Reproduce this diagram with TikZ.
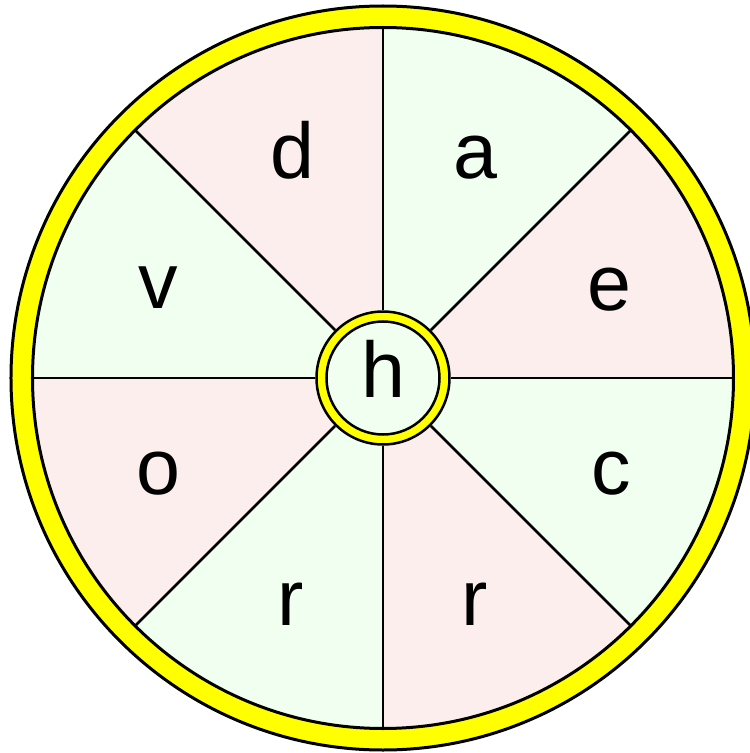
\documentclass[tikz,border=0pt]{standalone}
\usepackage{fontspec}
\setmainfont{Liberation Sans}
\definecolor{pinkfill}{RGB}{253,238,238}
\definecolor{greenfill}{RGB}{240,255,240}
\definecolor{ringyellow}{RGB}{255,255,0}
\tikzset{
  letter/.style={anchor=base, inner sep=0pt, font=\fontsize{79}{80}\selectfont},
  spoke/.style={draw=black, line width=2.5pt},
  wedgepink/.style={fill=pinkfill},
  wedgegreen/.style={fill=greenfill},
}
\begin{document}
\begin{tikzpicture}[x=1pt,y=1pt]
\useasboundingbox (-383,-375) rectangle (367,378);
% outer yellow ring
\node[circle, draw=black, line width=3pt, fill=ringyellow, minimum size=744pt, inner sep=0pt] (ringout) at (0,0) {};
% wedges
\foreach \a/\st in {0/wedgepink,45/wedgegreen,90/wedgepink,135/wedgegreen,180/wedgepink,225/wedgegreen,270/wedgepink,315/wedgegreen}{
  \path[\st] (0,0) -- (\a:350pt) arc[start angle=\a, end angle=\a+45, radius=350pt] -- cycle;
}
\node[circle, draw=black, line width=3pt, minimum size=701pt, inner sep=0pt, outer sep=0pt] (rim) at (0,0) {};
% hub
\node[circle, draw=black, line width=2.5pt, fill=ringyellow, minimum size=133pt, inner sep=0pt] (hub) at (0,0) {};
\node[circle, draw=black, line width=2.5pt, fill=greenfill, minimum size=113pt, inner sep=0pt] (hubin) at (0,0) {};
% spokes
\foreach \a in {0,45,...,315}{
  \draw[spoke] (hub.\a) -- (rim.\a);
}
% letters
\node[letter] (ld) at (-91,200) {d};
\node[letter] (la) at (92,200) {a};
\node[letter] (lv) at (-225,70) {v};
\node[letter] (le) at (226,68) {e};
\node[letter] (lc) at (228,-116) {c};
\node[letter] (lo) at (-225,-116) {o};
\node[letter] (lr1) at (-92,-247) {r};
\node[letter] (lr2) at (92,-247) {r};
\node[letter] (lh) at (0,-19) {h};
\end{tikzpicture}
\end{document}
